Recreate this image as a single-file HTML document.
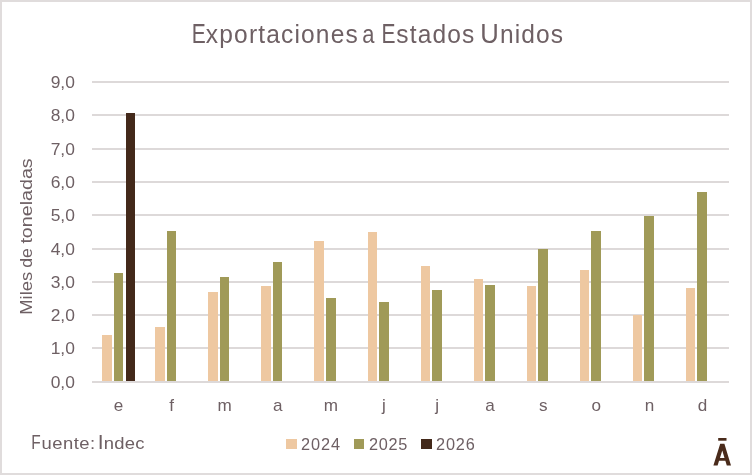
<!DOCTYPE html>
<html><head><meta charset="utf-8"><title>Exportaciones a Estados Unidos</title>
<style>
html,body{margin:0;padding:0;background:#fff;}
body{width:752px;height:475px;overflow:hidden;font-family:"Liberation Sans",sans-serif;}
svg{display:block;will-change:transform;}
text{font-family:"Liberation Sans",sans-serif;fill:#6E6064;}
</style></head><body>
<svg width="752" height="475" viewBox="0 0 752 475">
<rect x="0" y="0" width="752" height="475" fill="#E0DCDC"/>
<rect x="2" y="2" width="748" height="471" fill="#FFFFFF"/>

<g fill="#DDD9D9">
<rect x="92" y="81" width="637" height="2"/>
<rect x="92" y="114" width="637" height="2"/>
<rect x="92" y="148" width="637" height="2"/>
<rect x="92" y="181" width="637" height="2"/>
<rect x="92" y="214" width="637" height="2"/>
<rect x="92" y="248" width="637" height="2"/>
<rect x="92" y="281" width="637" height="2"/>
<rect x="92" y="314" width="637" height="2"/>
<rect x="92" y="347" width="637" height="2"/>
</g>
<g shape-rendering="crispEdges">
<rect x="102" y="335" width="10" height="46" fill="#EEC8A1"/>
<rect x="114" y="273" width="9" height="108" fill="#A09A58"/>
<rect x="126" y="113" width="9" height="268" fill="#43291A"/>
<rect x="155" y="327" width="10" height="54" fill="#EEC8A1"/>
<rect x="167" y="231" width="9" height="150" fill="#A09A58"/>
<rect x="208" y="292" width="10" height="89" fill="#EEC8A1"/>
<rect x="220" y="277" width="9" height="104" fill="#A09A58"/>
<rect x="261" y="286" width="10" height="95" fill="#EEC8A1"/>
<rect x="273" y="262" width="9" height="119" fill="#A09A58"/>
<rect x="314" y="241" width="10" height="140" fill="#EEC8A1"/>
<rect x="326" y="298" width="10" height="83" fill="#A09A58"/>
<rect x="368" y="232" width="9" height="149" fill="#EEC8A1"/>
<rect x="379" y="302" width="10" height="79" fill="#A09A58"/>
<rect x="421" y="266" width="9" height="115" fill="#EEC8A1"/>
<rect x="432" y="290" width="10" height="91" fill="#A09A58"/>
<rect x="474" y="279" width="9" height="102" fill="#EEC8A1"/>
<rect x="485" y="285" width="10" height="96" fill="#A09A58"/>
<rect x="527" y="286" width="9" height="95" fill="#EEC8A1"/>
<rect x="538" y="249" width="10" height="132" fill="#A09A58"/>
<rect x="580" y="270" width="9" height="111" fill="#EEC8A1"/>
<rect x="591" y="231" width="10" height="150" fill="#A09A58"/>
<rect x="633" y="315" width="9" height="66" fill="#EEC8A1"/>
<rect x="644" y="216" width="10" height="165" fill="#A09A58"/>
<rect x="686" y="288" width="9" height="93" fill="#EEC8A1"/>
<rect x="697" y="192" width="10" height="189" fill="#A09A58"/>
</g>
<rect x="92" y="381" width="637" height="2" fill="#DDD9D9"/>
<text font-size="27.6" transform="translate(191.70,43) scale(0.76,1)" textLength="19.18" lengthAdjust="spacing">E</text>
<text font-size="26.4" transform="translate(205.84,43) scale(0.93,1)" textLength="163.32" lengthAdjust="spacing">xportaciones</text>
<text font-size="26.4" transform="translate(362.18,43) scale(0.83,1)" textLength="16.90" lengthAdjust="spacing">a</text>
<text font-size="27.6" transform="translate(381.57,43) scale(0.76,1)" textLength="17.73" lengthAdjust="spacing">E</text>
<text font-size="26.4" transform="translate(396.24,43) scale(0.93,1)" textLength="83.99" lengthAdjust="spacing">stados</text>
<text font-size="26.4" transform="translate(480.28,43) scale(0.93,1)" textLength="88.93" lengthAdjust="spacing"><tspan font-size="27.6">U</tspan>nidos</text>
<text font-size="19.8" transform="translate(31.37,448.7) scale(0.78,1)" textLength="14.30" lengthAdjust="spacing">F</text>
<text font-size="17.4" transform="translate(41.43,448.7) scale(1.06,1)" textLength="50.69" lengthAdjust="spacing">uente:</text>
<text font-size="17.4" transform="translate(97.77,448.7) scale(1.06,1)" textLength="44.15" lengthAdjust="spacing"><tspan font-size="19.8">I</tspan>ndec</text>
<text font-size="16.3" transform="translate(300.93,449.9) scale(1.0,1)" textLength="39.07" lengthAdjust="spacing">2024</text>
<text font-size="16.3" transform="translate(368.94,449.9) scale(1.0,1)" textLength="38.29" lengthAdjust="spacing">2025</text>
<text font-size="16.3" transform="translate(435.93,449.9) scale(1.0,1)" textLength="38.99" lengthAdjust="spacing">2026</text>
<g font-size="16.3">
<text x="50.7" y="88" textLength="24.2" lengthAdjust="spacingAndGlyphs">9,0</text>
<text x="50.7" y="121" textLength="24.2" lengthAdjust="spacingAndGlyphs">8,0</text>
<text x="50.7" y="155" textLength="24.2" lengthAdjust="spacingAndGlyphs">7,0</text>
<text x="50.7" y="188" textLength="24.2" lengthAdjust="spacingAndGlyphs">6,0</text>
<text x="50.7" y="221" textLength="24.2" lengthAdjust="spacingAndGlyphs">5,0</text>
<text x="50.7" y="255" textLength="24.2" lengthAdjust="spacingAndGlyphs">4,0</text>
<text x="50.7" y="288" textLength="24.2" lengthAdjust="spacingAndGlyphs">3,0</text>
<text x="50.7" y="321" textLength="24.2" lengthAdjust="spacingAndGlyphs">2,0</text>
<text x="50.7" y="354" textLength="24.2" lengthAdjust="spacingAndGlyphs">1,0</text>
<text x="50.7" y="388" textLength="24.2" lengthAdjust="spacingAndGlyphs">0,0</text>
</g>
<g font-size="16" text-anchor="middle">
<text transform="translate(118.54,411) scale(1.07,1)">e</text>
<text transform="translate(171.62,411) scale(1.07,1)">f</text>
<text transform="translate(224.71,411) scale(1.07,1)">m</text>
<text transform="translate(277.79,411) scale(1.07,1)">a</text>
<text transform="translate(330.88,411) scale(1.07,1)">m</text>
<text transform="translate(383.96,411) scale(1.07,1)">j</text>
<text transform="translate(437.04,411) scale(1.07,1)">j</text>
<text transform="translate(490.12,411) scale(1.07,1)">a</text>
<text transform="translate(543.21,411) scale(1.07,1)">s</text>
<text transform="translate(596.29,411) scale(1.07,1)">o</text>
<text transform="translate(649.38,411) scale(1.07,1)">n</text>
<text transform="translate(702.46,411) scale(1.07,1)">d</text>
</g>
<text font-size="17" transform="translate(32,314.83) rotate(-90)" textLength="43.06" lengthAdjust="spacingAndGlyphs">Miles</text>
<text font-size="17" transform="translate(32,267.71) rotate(-90)" textLength="19.68" lengthAdjust="spacingAndGlyphs">de</text>
<text font-size="17" transform="translate(32,243.59) rotate(-90)" textLength="85.25" lengthAdjust="spacingAndGlyphs">toneladas</text>
<g shape-rendering="crispEdges">
<rect x="286" y="439" width="11" height="10" fill="#EEC8A1"/>
<rect x="354" y="439" width="10" height="10" fill="#A09A58"/>
<rect x="421" y="439" width="11" height="10" fill="#43291A"/>
</g>
<g fill="#4A2B1B">
<rect x="718.2" y="438" width="8.3" height="2.7"/>
<path d="M713.4 465.6 L720.2 443.8 L724.4 443.8 L731 465.6 L726.8 465.6 L725.35 460.8 L719.05 460.8 L717.6 465.6 Z M719.97 458 L724.5 458 L722.27 450.6 Z"/>
</g>
</svg></body></html>
